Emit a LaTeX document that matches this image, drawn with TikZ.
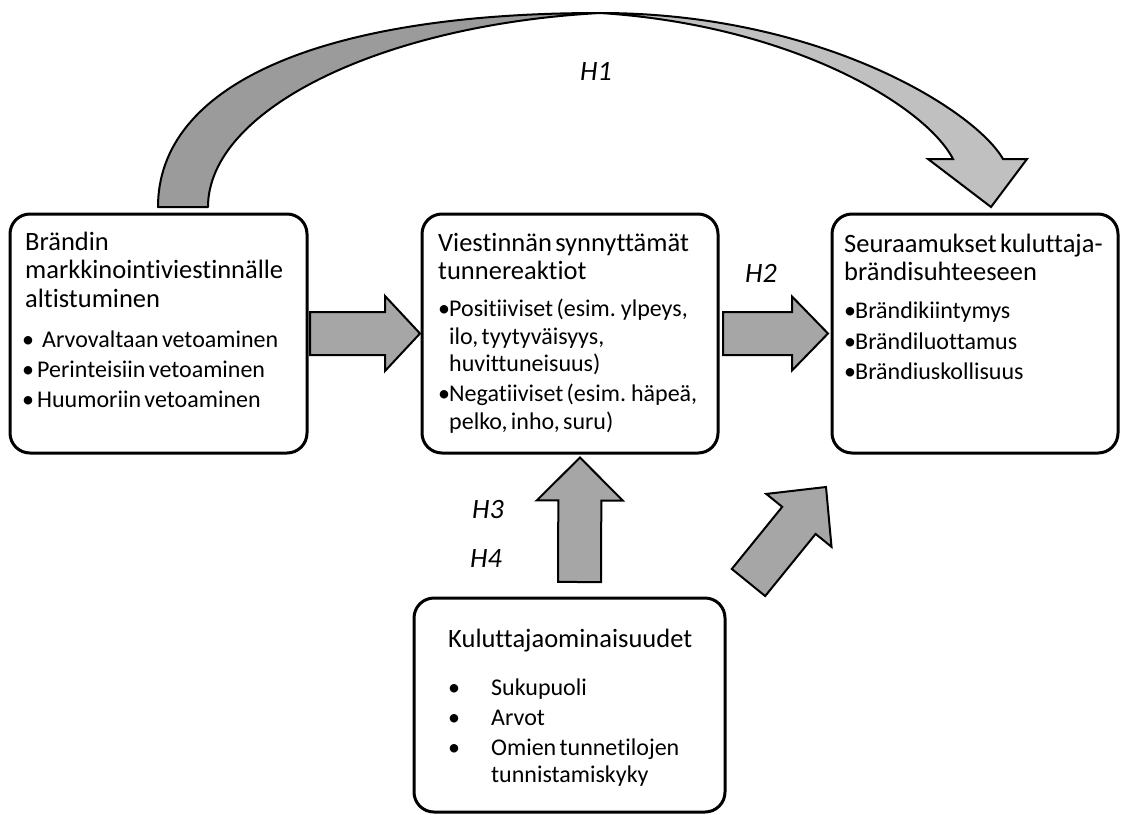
\documentclass[tikz,border=0pt]{standalone}
\usepackage{fontspec}
\setmainfont{Carlito}[Ligatures={NoCommon,NoContextual}]
\usetikzlibrary{calc}
\setlength{\parindent}{0pt}

\definecolor{arrowfill}{RGB}{166,166,166}
\definecolor{curvedark}{RGB}{155,155,155}
\definecolor{curvelight}{RGB}{192,192,192}

\newcommand{\ttl}{\fontsize{26.5}{28.5}\selectfont}
\newcommand{\itm}{\fontsize{24}{27.5}\selectfont}
\newcommand{\strutA}{\rule{0pt}{22pt}}
\newcommand{\dotbox}[1]{\makebox[#1][l]{•}}

\tikzset{
  box/.style={draw, line width=3pt, rounded corners=20pt, outer sep=0pt, inner sep=0pt, fill=white},
  txt/.style={anchor=north west, inner sep=0pt, text width=290pt, align=left},
  hlabel/.style={anchor=base west, inner sep=0pt, font=\fontsize{28}{30}\selectfont\itshape},
  blockarrow/.style 2 args={draw=black, line width=2pt, fill=arrowfill, line join=miter,
    to path={($(\tikztostart)!21.5pt!90:(\tikztotarget)$)
      -- ($(\tikztotarget)!#2!(\tikztostart)!21.5pt!-90:(\tikztostart)$)
      -- ($(\tikztotarget)!#2!(\tikztostart)!#1!-90:(\tikztostart)$)
      -- (\tikztotarget)
      -- ($(\tikztotarget)!#2!(\tikztostart)!#1!90:(\tikztostart)$)
      -- ($(\tikztotarget)!#2!(\tikztostart)!21.5pt!90:(\tikztostart)$)
      -- ($(\tikztostart)!21.5pt!-90:(\tikztotarget)$) -- cycle}}
}

\begin{document}
\begin{tikzpicture}[x=1pt,y=1pt,yscale=-1,xscale=1]
\useasboundingbox (0,0) rectangle (1121,814);

%Shape: boxes
\node[box, minimum width=297pt, minimum height=239pt] (brand) at (158.5,333.5) {};
\node[box, minimum width=296pt, minimum height=239pt] (reactions) at (570,333.5) {};
\node[box, minimum width=286pt, minimum height=239pt] (outcomes) at (975,333.5) {};
\node[box, minimum width=311pt, minimum height=214pt] (consumer) at (569.5,705) {};

% Text Node
\node[txt] (brandtxt) at ([shift={(15,14)}]brand.north west) {%
{\ttl\strutA Brändin\par markkinointiviestinnälle\par altistuminen\par}
\itm\vspace{12.5pt}\hspace*{-3pt}\dotbox{20pt}Arvovaltaan vetoaminen\par
\vspace{2.5pt}\hspace*{-3pt}\dotbox{15pt}Perinteisiin vetoaminen\par
\vspace{2.5pt}\hspace*{-3pt}\dotbox{15pt}Huumoriin vetoaminen\par};
% Text Node
\node[txt] (reactionstxt) at ([shift={(16,15)}]reactions.north west) {%
{\ttl\strutA Viestinnän synnyttämät\par tunnereaktiot\par}
\itm\vspace{9.5pt}\dotbox{11pt}Positiiviset (esim. ylpeys,\par
\hspace*{11pt}ilo, tyytyväisyys,\par
\hspace*{11pt}huvittuneisuus)\par
\vspace{2.5pt}\dotbox{11pt}Negatiiviset (esim. häpeä,\par
\hspace*{11pt}pelko, inho, suru)\par};
% Text Node
\node[txt] (outcomestxt) at ([shift={(12,16)}]outcomes.north west) {%
{\ttl\strutA Seuraamukset kuluttaja-\par brändisuhteeseen\par}
\itm\vspace{10.5pt}\dotbox{11pt}Brändikiintymys\par
\vspace{3pt}\dotbox{11pt}Brändiluottamus\par
\vspace{3pt}\dotbox{11pt}Brändiuskollisuus\par};
% Text Node
\node[txt] (consumertxt) at ([shift={(34,27)}]consumer.north west) {%
{\ttl\strutA Kuluttajaominaisuudet\par}
\itm\vspace{20.5pt}\dotbox{43pt}Sukupuoli\par
\vspace{2.5pt}\dotbox{43pt}Arvot\par
\vspace{2.5pt}\dotbox{43pt}Omien tunnetilojen\par
\hspace*{43pt}tunnistamiskyky\par};

%Curve Lines: H1 arrow
\draw[line width=2pt, fill=curvedark, line join=round] (158,207) .. controls (158,85) and (320,13) .. (600,13) .. controls (380,25) and (208,110) .. (208,207) -- cycle;
\draw[line width=2pt, fill=curvelight, line join=miter] (600,13) .. controls (820,13) and (975,110) .. (1003,159) -- (1027,159) -- (991,207) -- (928,159) -- (953,159) .. controls (925,105) and (790,25) .. (600,13) -- cycle;

%Block arrows
\coordinate (r1s) at ([xshift=3pt]brand.east);
\coordinate (r1e) at ([xshift=-2pt]reactions.west);
\draw[blockarrow={37.5pt}{35pt}] (r1s) to (r1e);
\coordinate (r2s) at ([xshift=5pt]reactions.east);
\coordinate (r2e) at ([xshift=-4pt]outcomes.west);
\draw[blockarrow={37pt}{36pt}] (r2s) to (r2e);
\coordinate (u1s) at ([xshift=10pt,yshift=-16pt]consumer.north);
\coordinate (u1e) at ([xshift=10pt,yshift=4.5pt]reactions.south);
\draw[blockarrow={43pt}{43pt}] (u1s) to (u1e);
\coordinate (d1s) at (748.5,582.5);
\coordinate (d1e) at (826,487);
\draw[blockarrow={42pt}{43pt}] (d1s) to (d1e);

% Text Node: hypotheses
\node[hlabel] (h1) at (580,80) {H1};
\node[hlabel] (h2) at (745,282) {H2};
\node[hlabel] (h3) at (472,518) {H3};
\node[hlabel] (h4) at (470,567) {H4};

\end{tikzpicture}
\end{document}
